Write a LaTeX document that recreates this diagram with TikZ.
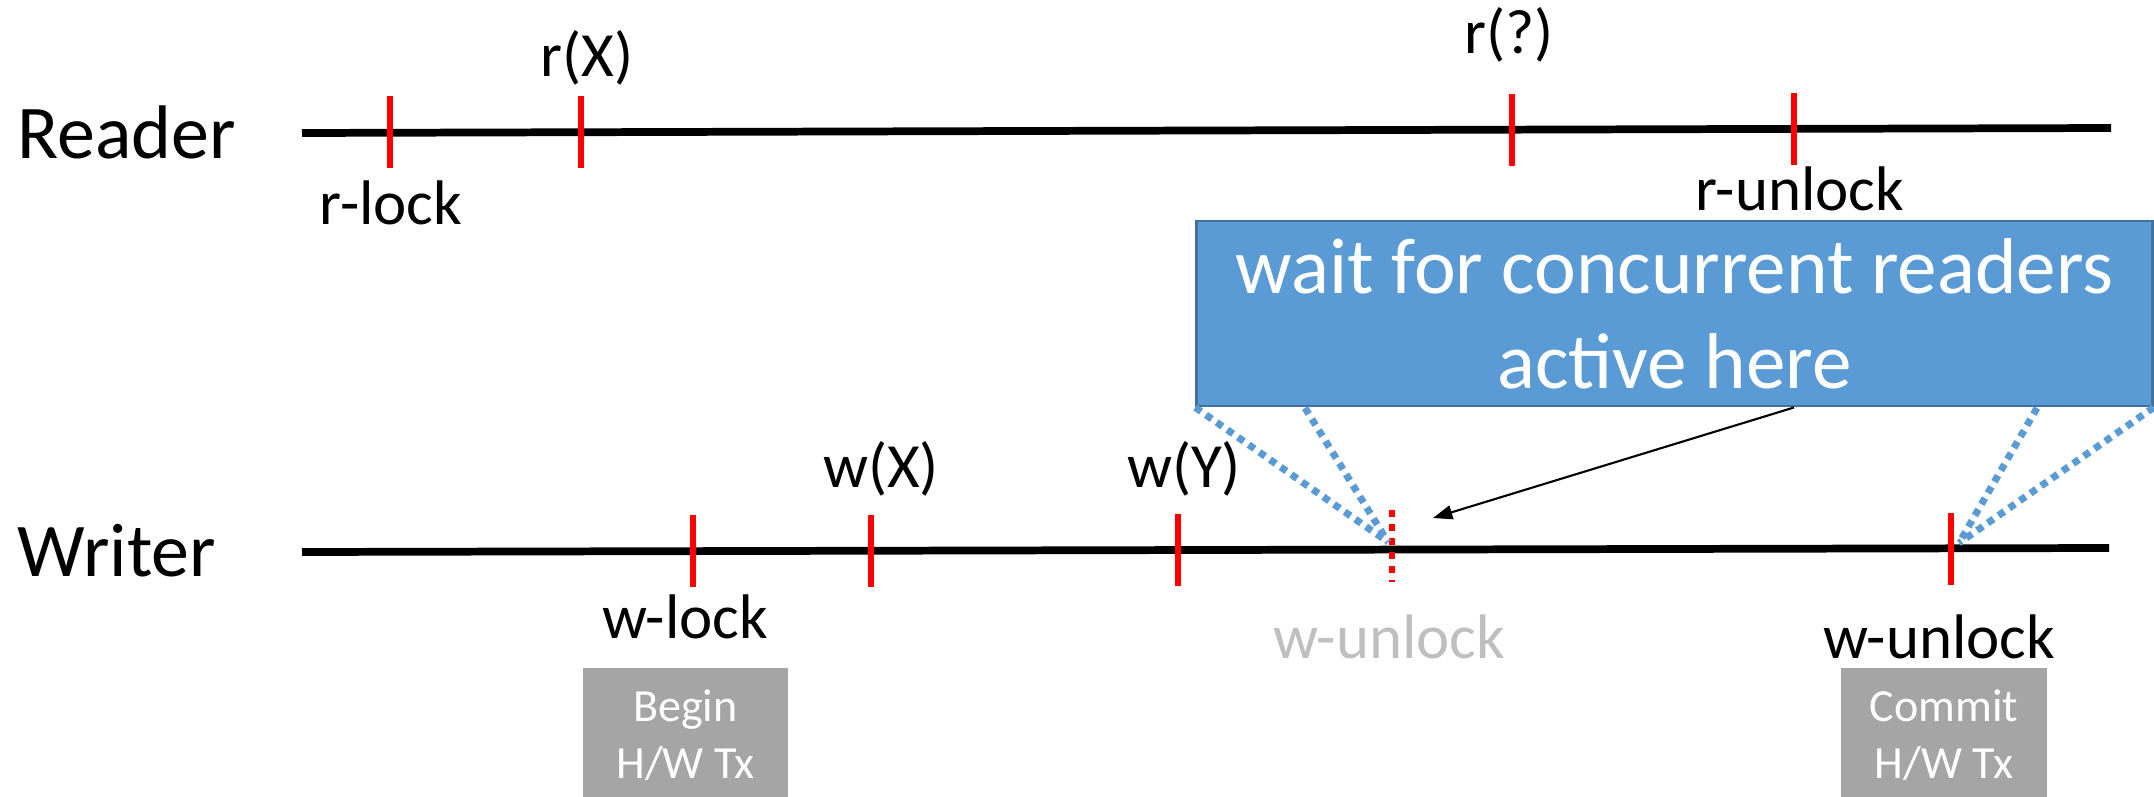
\documentclass[tikz,border=0pt]{standalone}
\usepackage{fontspec}
\setmainfont{Carlito}
\usetikzlibrary{arrows.meta}

\definecolor{calloutblue}{HTML}{5B9BD5}
\definecolor{calloutedge}{HTML}{41719C}
\definecolor{txgray}{HTML}{A5A5A5}
\definecolor{ghostgray}{HTML}{BFBFBF}

\tikzset{
  lane/.style={font=\fontsize{21.6}{26}\selectfont, anchor=base west},
  evtlabel/.style={font=\fontsize{17.9}{21}\selectfont, anchor=base},
  timeline/.style={line width=2.2pt},
  redtick/.style={red, line width=1.8pt},
  txbox/.style={fill=txgray, text=white, align=center, minimum width=2.05cm,
    minimum height=1.35cm, font=\fontsize{13.1}{16.2}\selectfont},
  projection/.style={calloutblue, line width=2pt, dash pattern=on 2pt off 1.7pt}
}

\begin{document}
\begin{tikzpicture}[x=0.01cm, y=-0.01cm, every node/.style={inner sep=0pt}]
\useasboundingbox (0,0) rectangle (2154,797);

% Reader thread
\node[lane] (reader) at (17,158) {Reader};
\coordinate (rstart) at (302,133);
\coordinate (rend) at (2111,128);
\draw[timeline] (rstart) -- (rend);
\coordinate (rlock) at (390,132);
\coordinate (rx) at (581,132);
\coordinate (rq) at (1512,130);
\coordinate (runl) at (1794,129);
\foreach \p in {rlock, rx, rq, runl}
  \draw[redtick] (\p) ++(0,-36) -- ++(0,72);
\node[evtlabel] (rlocklbl) at (391,224) {r-lock};
\node[evtlabel] (rxlbl) at (587,77) {r(X)};
\node[evtlabel] (rqlbl) at (1509,54) {r(?)};
\node[evtlabel] (runllbl) at (1800,210) {r-unlock};

% Writer thread
\node[lane] (writer) at (17,576) {Writer};
\coordinate (wstart) at (302,552);
\coordinate (wend) at (2109,548);
\draw[timeline] (wstart) -- (wend);
\coordinate (wlock) at (693,551);
\coordinate (wx) at (871,551);
\coordinate (wy) at (1178,550);
\coordinate (wwait) at (1392,550);
\coordinate (wunl) at (1951,549);
\foreach \p in {wlock, wx, wy, wunl}
  \draw[redtick] (\p) ++(0,-36) -- ++(0,72);
\draw[redtick, dash pattern=on 2pt off 2pt] (wwait) ++(0,-40) -- ++(0,72); % early unlock
\node[evtlabel] (wxlbl) at (881,487) {w(X)};
\node[evtlabel] (wylbl) at (1184,487) {w(Y)};
\node[evtlabel] (wlocklbl) at (685,638) {w-lock};
\node[evtlabel, text=ghostgray] (wwaitlbl) at (1389,658) {w-unlock};
\node[evtlabel] (wunllbl) at (1939,658) {w-unlock};

% H/W transaction boxes
\node[txbox] (begintx) at (685.5,735.5) {Begin\\H/W Tx};
\node[txbox] (committx) at (1944,735.5) {Commit\\H/W Tx};

% callout
\node[fill=calloutblue, draw=calloutedge, line width=0.8pt, text=white, align=center,
  minimum width=9.55cm, minimum height=1.85cm,
  font=\fontsize{22.5}{27}\selectfont] (waitbox) at (1674.5,313.5)
  {wait for concurrent readers\\active here};
\coordinate (projL) at (1305,408);
\coordinate (projR) at (2037,408);
\coordinate (wwaitfoot) at (1388,542);
\coordinate (wunlfoot) at (1959,543);
\draw[projection] (waitbox.south west) -- (wwaitfoot);
\draw[projection] (projL) -- (wwaitfoot);
\draw[projection] (projR) -- (wunlfoot);
\draw[projection] (waitbox.south east) -- (wunlfoot);
\coordinate (waittip) at (1433,518);
\draw[-{Triangle[length=5.5pt,width=4pt]}, line width=0.6pt] (runl |- waitbox.south) -- (waittip);

\end{tikzpicture}
\end{document}
